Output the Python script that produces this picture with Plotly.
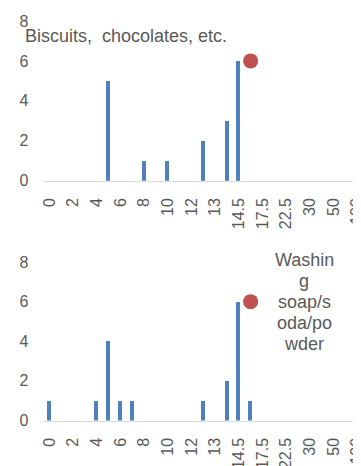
import plotly.graph_objects as go

categories = ["0", "1", "2", "3", "4", "5", "6", "7", "8", "9", "10", "11", "12",
              "12.5", "13", "14", "14.5", "15", "17.5", "20", "22.5", "25", "30",
              "40", "50", "75", "100"]
tick_labels = ["0", "2", "4", "6", "8", "10", "12", "13", "14.5", "17.5", "22.5",
               "30", "50", "100"]

biscuits_counts = [0, 0, 0, 0, 0, 5, 0, 0, 1, 0, 1, 0, 0,
                   2, 0, 3, 6, 0, 0, 0, 0, 0, 0, 0, 0, 0, 0]
washing_counts = [1, 0, 0, 0, 1, 4, 1, 1, 0, 0, 0, 0, 0,
                  1, 0, 2, 6, 1, 0, 0, 0, 0, 0, 0, 0, 0, 0]

marker_cat = ["15"]
biscuits_marker = [6]
washing_marker = [6]

title_top = "Biscuits,  chocolates, etc."
title_bottom_lines = ["Washin", "g", "soap/s", "oda/po", "wder"]

# page body has an 8px default margin; size the figure to fit the window
OFF = 8
WIN_W, WIN_H = 361, 466
W, H = WIN_W - OFF, WIN_H - OFF
BLUE = "#4F81BD"
RED = "#C0504D"
GREY = "#595959"
FONT = "Arial, Liberation Sans, sans-serif"

fig = go.Figure()
fig.add_trace(go.Bar(x=categories, y=biscuits_counts, marker_color=BLUE, width=0.34,
                     xaxis="x", yaxis="y", showlegend=False))
fig.add_trace(go.Scatter(x=marker_cat, y=biscuits_marker, mode="markers",
                         marker=dict(color=RED, size=15), xaxis="x", yaxis="y",
                         showlegend=False))
fig.add_trace(go.Bar(x=categories, y=washing_counts, marker_color=BLUE, width=0.34,
                     xaxis="x2", yaxis="y2", showlegend=False))
fig.add_trace(go.Scatter(x=marker_cat, y=washing_marker, mode="markers",
                         marker=dict(color=RED, size=15), xaxis="x2", yaxis="y2",
                         showlegend=False))

def px_x(x):
    return (x - OFF) / W

def px_y(y):
    return 1 - (y - OFF) / H

xdom = [px_x(43.4), 1]
xcommon = dict(type="category", categoryorder="array", categoryarray=categories,
               range=[-0.5, 26.32], tickmode="array", tickvals=tick_labels,
               ticktext=tick_labels, tickangle=-90, showgrid=False, zeroline=False,
               showline=True, linecolor="#D9D9D9", linewidth=1, ticks="",
               tickfont=dict(family=FONT, size=16, color=GREY),
               ticklabelstandoff=10, ticklabeloverflow="allow",
               domain=xdom, automargin=False)
ycommon = dict(range=[0, 8], tickvals=[0, 2, 4, 6, 8], showgrid=False, zeroline=False,
               showline=False, ticks="", tickfont=dict(family=FONT, size=16, color=GREY),
               ticklabelstandoff=14, automargin=False)

fig.update_layout(
    template="none",
    width=W, height=H,
    margin=dict(l=0, r=0, t=0, b=0, pad=0),
    paper_bgcolor="white", plot_bgcolor="white",
    xaxis=dict(anchor="y", **xcommon),
    yaxis=dict(anchor="x", domain=[px_y(180.7), px_y(21)], **ycommon),
    xaxis2=dict(anchor="y2", **xcommon),
    yaxis2=dict(anchor="x2", domain=[px_y(420.5), px_y(262)], **ycommon),
    bargap=0,
)

annotations = [dict(text=title_top, x=px_x(126), y=px_y(36), xref="paper", yref="paper",
                    xanchor="center", yanchor="middle", showarrow=False,
                    font=dict(family=FONT, size=18, color=GREY))]
for i, line in enumerate(title_bottom_lines):
    annotations.append(dict(text=line, x=px_x(304), y=px_y(259.5 + 21.2 * i),
                            xref="paper", yref="paper", xanchor="center",
                            yanchor="middle", showarrow=False,
                            font=dict(family=FONT, size=18, color=GREY)))
fig.update_layout(annotations=annotations)

fig.write_html("out.html")
